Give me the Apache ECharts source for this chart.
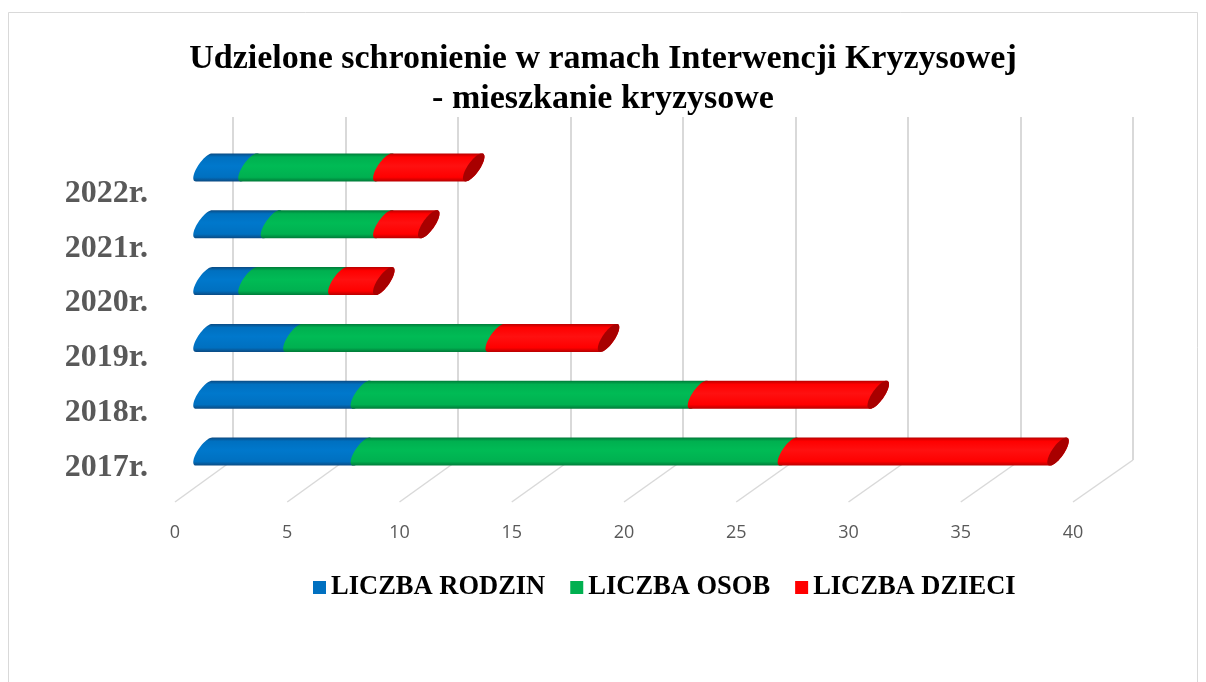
<!DOCTYPE html>
<html><head><meta charset="utf-8">
<script src="https://cdn.jsdelivr.net/npm/echarts@6/dist/echarts.min.js"></script>
<style>html,body{margin:0;padding:0;background:#fff}#c{width:1206px;height:682px}</style>
</head><body><div id="c"></div>
<script>
// ---- data ----
const categories = ['2017r.', '2018r.', '2019r.', '2020r.', '2021r.', '2022r.'];
const liczbaRodzin = [7, 7, 4, 2, 3, 2];
const liczbaOsob = [19, 15, 9, 4, 5, 6];
const liczbaDzieci = [12, 8, 5, 2, 2, 4];
const seriesNames = ['LICZBA RODZIN', 'LICZBA OSOB', 'LICZBA DZIECI'];
const axisMin = 0, axisMax = 40, axisInterval = 5;

const seriesValues = [liczbaRodzin, liczbaOsob, liczbaDzieci];
const palette = [
  { main: '#0070C0', light: '#0078cc', dark: '#0b4a82' },
  { main: '#00B050', light: '#00bb55', dark: '#007a38' },
  { main: '#FF0000', light: '#ff1010', dark: '#b80000' }
];

// stacked [start, end, categoryIndex]
const stacked = [];
const cum = categories.map(() => 0);
seriesValues.forEach((vals) => {
  const arr = [];
  vals.forEach((v, i) => { arr.push([cum[i], cum[i] + v, i]); cum[i] += v; });
  stacked.push(arr);
});

function ellPt(cx, cy, t, h, dx, w) {
  return [cx + Math.cos(t) * dx + Math.sin(t) * w, cy - Math.cos(t) * h];
}

function makeRender(si) {
  const col = palette[si];
  const isLast = si === seriesValues.length - 1;
  return function (params, api) {
    const start = api.value(0), end = api.value(1), ci = api.value(2);
    const p0 = api.coord([start, ci]);
    const p1 = api.coord([end, ci]);
    const band = api.size([0, 1])[1];
    const h = band * 0.247, dx = h * 0.58, w = h * 0.5;
    const N = 24;
    const pts = [];
    for (let k = 0; k <= N; k++) pts.push(ellPt(p0[0], p0[1], -Math.PI * k / N, h, dx, w));
    for (let k = 0; k <= N; k++) pts.push(ellPt(p1[0], p1[1], Math.PI - Math.PI * k / N, h, dx, w));
    const fill = new echarts.graphic.LinearGradient(0, 0, 0, 1, [
      { offset: 0, color: col.dark },
      { offset: 0.13, color: col.main },
      { offset: 0.45, color: col.light },
      { offset: 0.85, color: col.main },
      { offset: 1, color: col.dark }
    ]);
    const children = [{ type: 'polygon', shape: { points: pts }, style: { fill: fill } }];
    if (isLast) {
      const cap = [];
      for (let k = 0; k < 48; k++) cap.push(ellPt(p1[0], p1[1], 2 * Math.PI * k / 48, h, dx, w));
      children.push({ type: 'polygon', shape: { points: cap }, style: { fill: '#a80000' } });
    }
    return { type: 'group', children: children };
  };
}

const chart = echarts.init(document.getElementById('c'), null, { renderer: 'canvas' });

const serif = '"Liberation Serif", "Times New Roman", serif';

const option = {
  backgroundColor: '#ffffff',
  animation: false,
  title: {
    text: 'Udzielone schronienie w ramach Interwencji Kryzysowej\n- mieszkanie kryzysowe',
    left: 'center',
    top: 34,
    textStyle: { fontFamily: serif, fontWeight: 'bold', fontSize: 34, color: '#000', lineHeight: 40 }
  },
  legend: {
    data: seriesNames,
    left: 308,
    top: 569,
    icon: 'rect',
    itemWidth: 13,
    itemHeight: 13,
    itemGap: 25,
    textStyle: { fontFamily: serif, fontWeight: 'bold', fontSize: 26.5, color: '#000' },
    selectedMode: false
  },
  grid: [
    { left: 204, right: 103, top: 139, bottom: 202 },   // bars (mid depth)
    { left: 233, right: 73, top: 117, bottom: 222 },    // back wall
    { left: 175, right: 133, top: 166, bottom: 187 }    // front plane (labels)
  ],
  xAxis: [
    { gridIndex: 0, type: 'value', min: axisMin, max: axisMax, interval: axisInterval, show: false },
    { gridIndex: 1, type: 'value', min: axisMin, max: axisMax, interval: axisInterval,
      axisLabel: { show: false }, axisLine: { show: false }, axisTick: { show: false },
      splitLine: { show: true, lineStyle: { color: '#d9d9d9', width: 2 } } },
    { gridIndex: 2, type: 'value', min: axisMin, max: axisMax, interval: axisInterval,
      axisLine: { show: false }, axisTick: { show: false }, splitLine: { show: false },
      axisLabel: { margin: 29, fontSize: 18, color: '#595959', fontFamily: '"Open Sans", "Liberation Sans", sans-serif' } }
  ],
  yAxis: [
    { gridIndex: 0, type: 'category', data: categories, show: false },
    { gridIndex: 1, type: 'value', min: 0, max: 1, show: false },
    { gridIndex: 2, type: 'category', data: categories,
      axisLine: { show: false }, axisTick: { show: false },
      axisLabel: { margin: 27, fontSize: 32, fontWeight: 'bold', color: '#595959', fontFamily: serif } }
  ],
  series: seriesNames.map((name, si) => ({
    name: name,
    type: 'custom',
    xAxisIndex: 0,
    yAxisIndex: 0,
    z: 3 + si,
    silent: true,
    itemStyle: { color: palette[si].main },
    encode: { x: [0, 1], y: 2 },
    renderItem: makeRender(si),
    data: stacked[si]
  }))
};

chart.setOption(option);

// floor lines connecting the front axis and the back wall
const floorFrontY = 502, floorBackY = 460;
const graphics = [{
  type: 'rect', silent: true, z: -10,
  shape: { x: 8.5, y: 12.5, width: 1189, height: 700 },
  style: { fill: 'none', stroke: '#d9d9d9', lineWidth: 1 }
}];
for (let v = axisMin; v <= axisMax; v += axisInterval) {
  const xf = chart.convertToPixel({ xAxisIndex: 2 }, v);
  const xb = chart.convertToPixel({ xAxisIndex: 1 }, v);
  graphics.push({
    type: 'line', silent: true, z: 0,
    shape: { x1: xf, y1: floorFrontY, x2: xb, y2: floorBackY },
    style: { stroke: '#d9d9d9', lineWidth: 1.5 }
  });
}
chart.setOption({ graphic: graphics });
</script>
</body></html>
